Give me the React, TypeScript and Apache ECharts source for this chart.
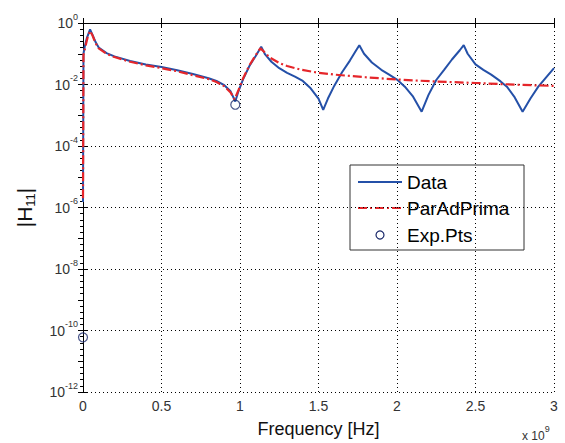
import React, { useEffect, useRef } from "react";
import * as echarts from "echarts";

// Frequency in units of 1e9 Hz (axis shows "x 10^9")
const xTickLabels = ["0", "0.5", "1", "1.5", "2", "2.5", "3"];
const yTickExponents = [-12, -10, -8, -6, -4, -2, 0];

// "Data" series (blue)
const dataFreq = [
  0, 0.003, 0.012, 0.025, 0.045, 0.06, 0.08, 0.1, 0.15, 0.2, 0.3, 0.4, 0.5, 0.6, 0.7, 0.8, 0.85, 0.9, 0.94, 0.97,
  0.99, 1.02, 1.06, 1.1, 1.135, 1.16, 1.2, 1.25, 1.3, 1.35, 1.4, 1.45, 1.5, 1.53, 1.56, 1.6, 1.65, 1.7, 1.74, 1.76,
  1.79, 1.84, 1.9, 1.95, 2.0, 2.05, 2.1, 2.157, 2.2, 2.25, 2.3, 2.35, 2.4, 2.425, 2.45, 2.5, 2.55, 2.6, 2.66, 2.7,
  2.75, 2.8, 2.85, 2.9, 2.95, 3.0,
];
const dataMag = [
  1.5e-6, 0.1, 0.18, 0.33, 0.62, 0.42, 0.24, 0.16, 0.105, 0.082, 0.058, 0.045, 0.037, 0.029, 0.022, 0.016, 0.013, 0.0095, 0.006, 0.0028,
  0.006, 0.015, 0.04, 0.085, 0.17, 0.095, 0.055, 0.034, 0.024, 0.018, 0.013, 0.0075, 0.0035, 0.0015, 0.0035, 0.009, 0.025, 0.06, 0.13, 0.19,
  0.1, 0.052, 0.03, 0.021, 0.0145, 0.0085, 0.0042, 0.0013, 0.0045, 0.014, 0.03, 0.065, 0.13, 0.19, 0.1, 0.045, 0.03, 0.021, 0.0126, 0.0085,
  0.0038, 0.0013, 0.0035, 0.0085, 0.017, 0.034,
];

// "ParAdPrima" series (red dash-dot)
const fitFreq = [
  0, 0.003, 0.015, 0.03, 0.045, 0.06, 0.08, 0.1, 0.15, 0.2, 0.3, 0.4, 0.5, 0.6, 0.7, 0.8, 0.85, 0.9, 0.94, 0.965,
  0.99, 1.02, 1.06, 1.1, 1.13, 1.15, 1.19, 1.25, 1.3, 1.38, 1.5, 1.6, 1.8, 2.0, 2.25, 2.5, 2.75, 3.0,
];
const fitMag = [
  2e-6, 0.09, 0.17, 0.35, 0.55, 0.4, 0.22, 0.15, 0.1, 0.078, 0.055, 0.042, 0.034, 0.027, 0.02, 0.015, 0.012, 0.0088, 0.0055, 0.0033,
  0.0065, 0.016, 0.042, 0.09, 0.15, 0.12, 0.075, 0.05, 0.04, 0.031, 0.024, 0.021, 0.0172, 0.0145, 0.0125, 0.0112, 0.0099, 0.009,
];

// "Exp.Pts" (hollow circles)
const expFreq = [0, 0.97];
const expMag = [6e-11, 2.2e-3];

const legendNames = ["Data", "ParAdPrima", "Exp.Pts"];

const FONT = "'Liberation Sans', Arial, Helvetica, sans-serif";
const BLUE = "#2450a8";
const RED = "#e5262a";
const NAVY = "#1b2a6b";

export default function App() {
  const ref = useRef<HTMLDivElement>(null);

  useEffect(() => {
    document.body.style.margin = "0";
    if (!ref.current) return;
    const chart = echarts.init(ref.current, undefined, { renderer: "svg" });

    const toLog = (xs: number[], ys: number[]) => xs.map((x, i) => [x, Math.log10(ys[i])]);

    const option: any = {
      animation: false,
      backgroundColor: "#fff",
      grid: { left: 83, right: 11, top: 23, bottom: 49, containLabel: false },
      xAxis: [
        {
          type: "value",
          min: 0,
          max: 3,
          interval: 0.5,
          position: "bottom",
          axisLine: { show: true, lineStyle: { color: "#000", width: 1 } },
          axisTick: { show: true, inside: true, length: 5, lineStyle: { color: "#000" } },
          axisLabel: {
            margin: 7,
            fontSize: 14,
            color: "#333",
            fontFamily: FONT,
            formatter: (v: number) => xTickLabels[Math.round(v * 2)] ?? String(v),
          },
          splitLine: { show: true, lineStyle: { color: "#000", type: [1, 3], width: 1 } },
          name: "Frequency [Hz]",
          nameLocation: "middle",
          nameGap: 28,
          nameTextStyle: { fontSize: 18, color: "#111", fontFamily: FONT },
        },
        {
          type: "value",
          min: 0,
          max: 3,
          interval: 0.5,
          position: "top",
          axisLine: { show: true, lineStyle: { color: "#000", width: 1 } },
          axisTick: { show: true, inside: true, length: 5, lineStyle: { color: "#000" } },
          axisLabel: { show: false },
          splitLine: { show: false },
        },
      ],
      yAxis: [
        {
          type: "value",
          min: -12,
          max: 0,
          interval: 2,
          position: "left",
          axisLine: { show: true, lineStyle: { color: "#000", width: 1 } },
          axisTick: { show: true, inside: true, length: 5, lineStyle: { color: "#000" } },
          axisLabel: {
            margin: 5,
            color: "#333",
            fontFamily: FONT,
            formatter: (v: number) => (yTickExponents.includes(Math.round(v)) ? `{b|10}{s|${Math.round(v)}}` : ""),
            rich: {
              b: { fontSize: 14, color: "#333", fontFamily: FONT },
              s: { fontSize: 9, color: "#333", fontFamily: FONT, padding: [0, 0, 13, 0] },
            },
          },
          splitLine: { show: true, lineStyle: { color: "#000", type: [1, 3], width: 1 } },
          name: "|H{s|11}|",
          nameLocation: "middle",
          nameGap: 46,
          nameTextStyle: {
            fontSize: 21,
            color: "#111",
            fontFamily: FONT,
            rich: { s: { fontSize: 13, color: "#111", fontFamily: FONT, padding: [12, 0, 0, 0] } },
          },
        },
        {
          type: "value",
          min: -12,
          max: 0,
          interval: 1,
          position: "right",
          axisLine: { show: true, lineStyle: { color: "#000", width: 1 } },
          axisTick: { show: true, inside: true, length: 5, lineStyle: { color: "#000" } },
          minorTick: { show: true, splitNumber: 5, length: 3, lineStyle: { color: "#000" } },
          axisLabel: { show: false },
          splitLine: { show: false },
        },
      ],
      series: [
        {
          name: legendNames[0],
          type: "line",
          data: toLog(dataFreq, dataMag),
          showSymbol: false,
          symbol: "none",
          lineStyle: { color: BLUE, width: 2 },
          itemStyle: { color: BLUE },
          clip: true,
          z: 2,
        },
        {
          name: legendNames[1],
          type: "line",
          data: toLog(fitFreq, fitMag),
          showSymbol: false,
          symbol: "none",
          lineStyle: { color: RED, width: 2.2, type: [9, 3, 2, 3] },
          itemStyle: { color: RED },
          clip: true,
          z: 3,
        },
        {
          name: legendNames[2],
          type: "scatter",
          data: toLog(expFreq, expMag),
          symbol: "circle",
          symbolSize: 9,
          itemStyle: { color: "rgba(255,255,255,0)", borderColor: NAVY, borderWidth: 1.2 },
          clip: false,
          z: 4,
        },
      ],
      graphic: [
        {
          type: "group",
          z: 100,
          children: [
            {
              type: "rect",
              shape: { x: 350, y: 165, width: 174, height: 85 },
              style: { fill: "#fff", stroke: "#333", lineWidth: 1 },
            },
            {
              type: "line",
              shape: { x1: 358, y1: 182, x2: 402, y2: 182 },
              style: { stroke: BLUE, lineWidth: 2 },
            },
            {
              type: "line",
              shape: { x1: 358, y1: 208, x2: 402, y2: 208 },
              style: { stroke: RED, lineWidth: 2.2, lineDash: [9, 3, 2, 3] },
            },
            {
              type: "circle",
              shape: { cx: 380, cy: 235, r: 4 },
              style: { stroke: NAVY, fill: "#fff", lineWidth: 1.2 },
            },
            {
              type: "text",
              x: 407,
              y: 182,
              style: { text: legendNames[0], fontSize: 19, fontFamily: FONT, fill: "#000", verticalAlign: "middle" },
            },
            {
              type: "text",
              x: 407,
              y: 208,
              style: { text: legendNames[1], fontSize: 19, fontFamily: FONT, fill: "#000", verticalAlign: "middle" },
            },
            {
              type: "text",
              x: 407,
              y: 235,
              style: { text: legendNames[2], fontSize: 19, fontFamily: FONT, fill: "#000", verticalAlign: "middle" },
            },
          ],
        },
        {
          type: "text",
          x: 522,
          y: 422,
          z: 100,
          style: {
            text: "{a|x 10}{b|9}",
            rich: {
              a: { fontSize: 12, fill: "#333", fontFamily: FONT, padding: [8, 0, 0, 0] },
              b: { fontSize: 9, fill: "#333", fontFamily: FONT, padding: [0, 0, 6, 0] },
            },
          },
        },
      ],
    };

    chart.setOption(option);
    return () => chart.dispose();
  }, []);

  return <div ref={ref} style={{ width: 565, height: 443 }} />;
}
